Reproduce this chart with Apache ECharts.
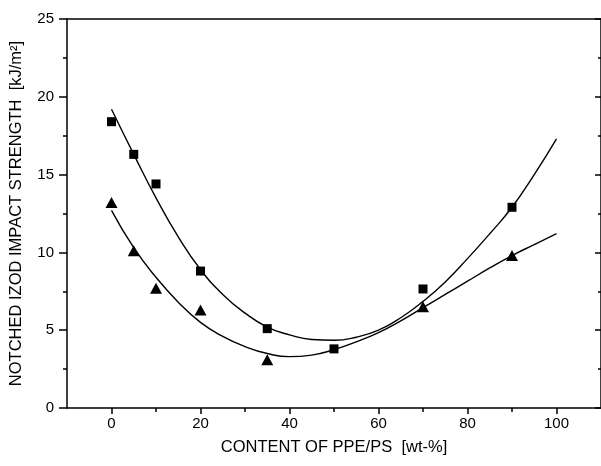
<!DOCTYPE html>
<html>
<head>
<meta charset="utf-8">
<script src="https://cdn.jsdelivr.net/npm/echarts@6/dist/echarts.min.js"></script>
<style>
  html, body { margin: 0; padding: 0; background: #fff; }
  #chart { width: 601px; height: 466px; }
</style>
</head>
<body>
<div id="chart"></div>
<script>
// measured points
const squareX = [0, 5, 10, 20, 35, 50, 70, 90];
const squareY = [18.4, 16.3, 14.4, 8.8, 5.1, 3.8, 7.65, 12.9];
const triX = [0, 5, 10, 20, 35, 70, 90];
const triY = [13.2, 10.1, 7.7, 6.3, 3.1, 6.5, 9.8];

// fitted curves
const fitX = [0, 5, 10, 15, 20, 25, 30, 35, 40, 45, 50, 55, 60, 65, 70, 75, 80, 85, 90, 95, 100];
const upperFit = [19.2, 16.3, 13.5, 11.0, 8.9, 7.3, 6.1, 5.2, 4.7, 4.4, 4.35, 4.55, 5.0, 5.8, 6.85, 8.1, 9.6, 11.2, 12.9, 15.0, 17.3];
const lowerFit = [12.7, 10.3, 8.4, 6.8, 5.5, 4.6, 3.95, 3.5, 3.3, 3.4, 3.75, 4.25, 4.85, 5.6, 6.45, 7.3, 8.15, 9.0, 9.8, 10.5, 11.2];

// tick labels
const xMajor = [0, 20, 40, 60, 80, 100];
const xMinor = [10, 30, 50, 70, 90];

const FONT = "'Liberation Sans', Arial, sans-serif";
const zip = (xs, ys) => xs.map((x, i) => [x, ys[i]]);

const chart = echarts.init(document.getElementById('chart'));

const lineStyle = { color: '#000', width: 1.5 };

chart.setOption({
    animation: false,
    backgroundColor: '#fff',
    grid: { left: 66, top: 19, width: 536, height: 389, containLabel: false },
    xAxis: [
        {
            type: 'value', position: 'bottom', min: -10, max: 110,
            name: 'CONTENT OF PPE/PS  [wt-%]',
            nameLocation: 'middle', nameGap: 31,
            nameTextStyle: { fontFamily: FONT, fontSize: 16.5, color: '#000' },
            axisLine: { onZero: false, lineStyle: lineStyle },
            axisTick: { customValues: xMajor, length: 6, lineStyle: lineStyle },
            axisLabel: { customValues: xMajor, margin: 8, fontFamily: FONT, fontSize: 15, color: '#000' },
            splitLine: { show: false }
        },
        {
            type: 'value', position: 'bottom', min: -10, max: 110,
            axisLine: { show: false, onZero: false },
            axisTick: { customValues: xMinor, length: 4, lineStyle: lineStyle },
            axisLabel: { show: false },
            splitLine: { show: false }
        },
        {
            type: 'value', position: 'top', min: -10, max: 110,
            axisLine: { onZero: false, lineStyle: lineStyle },
            axisTick: { show: false },
            axisLabel: { show: false },
            splitLine: { show: false }
        }
    ],
    yAxis: [
        {
            type: 'value', position: 'left', min: 0, max: 25, interval: 5,
            name: 'NOTCHED IZOD IMPACT STRENGTH  [kJ/m²]',
            nameLocation: 'middle', nameGap: 42,
            nameTextStyle: { fontFamily: FONT, fontSize: 16.5, color: '#000' },
            axisLine: { show: true, onZero: false, lineStyle: lineStyle },
            axisTick: { show: true, length: 8, lineStyle: lineStyle },
            minorTick: { show: true, splitNumber: 2, length: 4, lineStyle: lineStyle },
            axisLabel: { margin: 13, fontFamily: FONT, fontSize: 15, color: '#000' },
            splitLine: { show: false }
        },
        {
            type: 'value', position: 'right', min: 0, max: 25, interval: 5,
            axisLine: { show: true, onZero: false, lineStyle: lineStyle },
            axisTick: { show: true, inside: true, length: 6, lineStyle: lineStyle },
            minorTick: { show: true, splitNumber: 2, length: 3, lineStyle: lineStyle },
            axisLabel: { show: false },
            splitLine: { show: false }
        }
    ],
    series: [
        {
            type: 'line', data: zip(fitX, upperFit), smooth: 0.5, showSymbol: false,
            lineStyle: { color: '#000', width: 1.4 }, z: 2
        },
        {
            type: 'line', data: zip(fitX, lowerFit), smooth: 0.5, showSymbol: false,
            lineStyle: { color: '#000', width: 1.4 }, z: 2
        },
        {
            type: 'scatter', data: zip(squareX, squareY), symbol: 'rect', symbolSize: 9,
            itemStyle: { color: '#000', opacity: 1 }, z: 3
        },
        {
            type: 'scatter', data: zip(triX, triY), symbol: 'triangle', symbolSize: [12, 11],
            itemStyle: { color: '#000', opacity: 1 }, z: 3
        }
    ]
});
</script>
</body>
</html>
